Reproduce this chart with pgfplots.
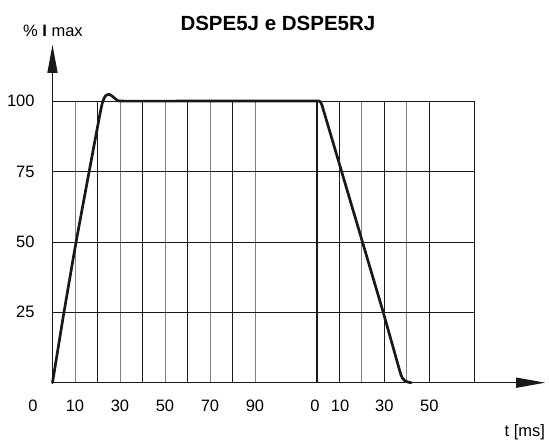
\documentclass[border=0pt]{standalone}
\usepackage{pgfplots}
\pgfplotsset{compat=1.18}
\usepackage{fontspec}
\setmainfont{Liberation Sans}
\usetikzlibrary{arrows.meta}
\definecolor{gridgray}{gray}{0.5}
\definecolor{ink}{gray}{0.1}
\begin{document}
\begin{tikzpicture}
\begin{axis}[
  x=2.25pt, y=2.816pt,
  xmin=0, xmax=187.5, ymin=0, ymax=100,
  axis lines=none, ticks=none, clip=false,
]
% page frame (549 x 441)
\path (axis cs:-23.33,-20.7) rectangle (axis cs:220.67,135.9);
% grid
\pgfplotsinvokeforeach{10,30,50,70,90,137.5,157.5}{
  \draw[gridgray, line width=0.95pt] (axis cs:#1,0) -- (axis cs:#1,100);}
\pgfplotsinvokeforeach{20,40,60,80,127.5,147.5,167.5,187.5}{
  \draw[ink, line width=0.75pt] (axis cs:#1,0) -- (axis cs:#1,100);}
\pgfplotsinvokeforeach{25,50,75,100}{
  \draw[ink, line width=0.75pt] (axis cs:0,#1) -- (axis cs:187.5,#1);}
\draw[ink, line width=1.5pt] (axis cs:117.5,0) -- (axis cs:117.5,100);
% axes
\draw[ink, line width=1.3pt, -{Triangle[length=28pt,width=10pt]}] (axis cs:0,0) -- (axis cs:0,120);
\draw[ink, line width=1.3pt, -{Triangle[length=29pt,width=10pt]}] (axis cs:0,0) -- (axis cs:219,0);
% curve: switch-on
\addplot[ink, line width=2.7pt, smooth, tension=0.3, line cap=round] coordinates {
(0,0) (5,24.5) (10.5,50) (16.3,75) (21,95) (22.3,99.8) (23.6,101.9) (25.2,102.4)
(26.8,101.6) (28.6,100.4) (31,100) (60,100) (90,100) (117.5,100)
};
% curve: switch-off
\addplot[ink, line width=2.7pt, line join=round, line cap=round] coordinates {
(117.5,100) (118.6,100) (119.2,99.6) (119.8,98.5) (147,25) (154.4,4)
(154.9,2.7) (155.6,1.5) (156.6,0.7) (158,0.2) (159.4,0)
};
% labels
\node[anchor=east, font=\fontsize{16.5}{18}\selectfont] at (axis cs:-6.4,100) {100};
\node[anchor=east, font=\fontsize{16.5}{18}\selectfont] at (axis cs:-6.4,75) {75};
\node[anchor=east, font=\fontsize{16.5}{18}\selectfont] at (axis cs:-6.4,50) {50};
\node[anchor=east, font=\fontsize{16.5}{18}\selectfont] at (axis cs:-6.4,25) {25};
\pgfplotsinvokeforeach{10,30,50,70,90}{
  \node[font=\fontsize{16.5}{18}\selectfont] at (axis cs:#1,-8.1) {#1};}
\node[font=\fontsize{16.5}{18}\selectfont] at (axis cs:-8.7,-8.1) {0};
\node[font=\fontsize{16.5}{18}\selectfont] at (axis cs:116.6,-8.1) {0};
\node[font=\fontsize{16.5}{18}\selectfont] at (axis cs:127.8,-8.1) {10};
\node[font=\fontsize{16.5}{18}\selectfont] at (axis cs:147.5,-8.1) {30};
\node[font=\fontsize{16.5}{18}\selectfont] at (axis cs:167.5,-8.1) {50};
\node[font=\fontsize{16.5}{18}\selectfont] at (axis cs:209.9,-17.5) {t [ms]};
\node[font=\fontsize{16.5}{18}\selectfont] at (axis cs:0.2,124.9) {\% \textbf{I} max};
\node[font=\bfseries\fontsize{20.5}{22}\selectfont] at (axis cs:100.2,127.6) {DSPE5J e DSPE5RJ};
\end{axis}
\end{tikzpicture}
\end{document}
